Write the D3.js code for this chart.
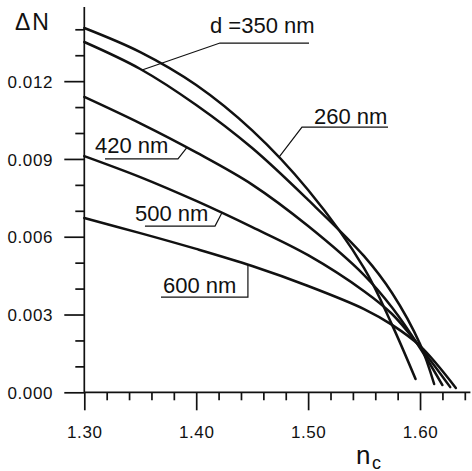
<!DOCTYPE html>
<html><head><meta charset="utf-8">
<script src="https://cdn.jsdelivr.net/npm/d3@7"></script>
<style>
html,body{margin:0;padding:0;background:#fff;}
text{font-family:"Liberation Sans",Arial,Helvetica,sans-serif;fill:#111;}
</style>
</head><body>
<svg id="c" width="472" height="471"></svg>
<script>
// ---- data ----
const nc260 = [1.30, 1.35, 1.40, 1.45, 1.50, 1.55, 1.575, 1.596];
const dn260 = [0.01405, 0.01312, 0.01185, 0.0101, 0.0078, 0.00479, 0.0026, 0.00051];
const nc350 = [1.30, 1.35, 1.40, 1.45, 1.50, 1.55, 1.575, 1.60, 1.6126];
const dn350 = [0.01351, 0.01247, 0.01108, 0.00942, 0.00742, 0.00525, 0.00383, 0.00186, 0.00032];
const nc420 = [1.30, 1.35, 1.40, 1.45, 1.50, 1.55, 1.575, 1.60, 1.620];
const dn420 = [0.01139, 0.01037, 0.00925, 0.00801, 0.00641, 0.00452, 0.00327, 0.00171, 0.00028];
const nc500 = [1.30, 1.35, 1.40, 1.45, 1.50, 1.55, 1.575, 1.60, 1.627];
const dn500 = [0.00911, 0.0083, 0.00738, 0.00637, 0.00529, 0.0039, 0.00302, 0.00175, 0.0002];
const nc600 = [1.30, 1.35, 1.40, 1.45, 1.50, 1.55, 1.575, 1.60, 1.632];
const dn600 = [0.00672, 0.00614, 0.00553, 0.00487, 0.0041, 0.00321, 0.0026, 0.00179, 0.00017];

const xMajorTicks = [1.30, 1.40, 1.50, 1.60];
const xMinorTicks = [1.32, 1.34, 1.36, 1.38, 1.42, 1.44, 1.46, 1.48, 1.52, 1.54, 1.56, 1.58, 1.62, 1.64];
const yMajorTicks = [0.000, 0.003, 0.006, 0.009, 0.012];
const yMinorTicks = [0.001, 0.002, 0.004, 0.005, 0.007, 0.008, 0.010, 0.011, 0.013, 0.014];

const seriesNames = ["260", "350", "420", "500", "600"];
const labelTexts = ["260 nm", "d =350 nm", "420 nm", "500 nm", "600 nm"];

// ---- layout ----
const svg = d3.select("#c");
const x = d3.scaleLinear().domain([1.30, 1.645]).range([84.3, 470.4]);
const y = d3.scaleLinear().domain([0, 0.01486]).range([392.3, 7]);
const ink = "#111";

function styleAxis(g) {
  g.selectAll("path,line").attr("stroke", ink).attr("stroke-width", 1.7);
}

// x axis
svg.append("g").attr("transform", `translate(0,${y(0)})`)
  .call(d3.axisBottom(x).tickValues(xMinorTicks).tickSize(8).tickSizeOuter(0).tickFormat(""))
  .call(styleAxis);
const gx = svg.append("g").attr("transform", `translate(0,${y(0)})`)
  .call(d3.axisBottom(x).tickValues(xMajorTicks).tickSize(18).tickSizeOuter(0).tickFormat(d3.format(".2f")))
  .call(styleAxis);
gx.selectAll("text").attr("y", 45.7).attr("dy", 0).attr("font-size", 17).attr("letter-spacing", 0.6).attr("fill", ink);

// y axis
svg.append("g").attr("transform", `translate(${x(1.30)},0)`)
  .call(d3.axisLeft(y).tickValues(yMinorTicks).tickSize(9).tickSizeOuter(0).tickFormat(""))
  .call(styleAxis);
const gy = svg.append("g").attr("transform", `translate(${x(1.30)},0)`)
  .call(d3.axisLeft(y).tickValues(yMajorTicks).tickSize(20).tickSizeOuter(0).tickFormat(d3.format(".3f")))
  .call(styleAxis);
gy.selectAll("text").attr("x", -31.3).attr("dy", "0.36em").attr("font-size", 17).attr("letter-spacing", 0.6).attr("fill", ink);
svg.selectAll("path.domain").remove();
svg.append("line").attr("x1", x(1.30)).attr("x2", x(1.645)).attr("y1", y(0)).attr("y2", y(0))
  .attr("stroke", ink).attr("stroke-width", 1.7);
svg.append("line").attr("x1", x(1.30)).attr("x2", x(1.30)).attr("y1", y(0)).attr("y2", y(0.01486))
  .attr("stroke", ink).attr("stroke-width", 1.7);

// axis titles
svg.append("text").attr("x", 15).attr("y", 29.5).attr("font-size", 23).attr("letter-spacing", 2).text("ΔN");
svg.append("text").attr("x", 356).attr("y", 464).attr("font-size", 26).text("n");
svg.append("text").attr("x", 372).attr("y", 468.5).attr("font-size", 18).text("c");

// curves
const ncs = [nc260, nc350, nc420, nc500, nc600];
const dns = [dn260, dn350, dn420, dn500, dn600];
const line = d3.line().x(d => x(d[0])).y(d => y(d[1])).curve(d3.curveCatmullRom.alpha(0.5));
const paths = {};
seriesNames.forEach((s, i) => {
  const pts = ncs[i].map((n, j) => [n, dns[i][j]]);
  paths[s] = svg.append("path").datum(pts).attr("d", line)
    .attr("fill", "none").attr("stroke", ink).attr("stroke-width", 2.5)
    .attr("stroke-linecap", "round").node();
});

function pointAtX(path, tx) {
  let lo = 0, hi = path.getTotalLength();
  for (let k = 0; k < 40; k++) {
    const mid = (lo + hi) / 2;
    if (path.getPointAtLength(mid).x < tx) lo = mid; else hi = mid;
  }
  return path.getPointAtLength(lo);
}

// annotations, placed in data coordinates
const notes = [
  {s: "260", t: 1.5052, ty: 0.01035, u0: 1.4945, u1: 1.5714, uy: 0.01023, from: "left", target: 1.4740},
  {s: "350", t: 1.4123, ty: 0.01386, u0: 1.4212, u1: 1.5008, uy: 0.01347, from: "left", target: 1.3516},
  {s: "420", t: 1.3096, ty: 0.00923, u0: 1.3185, u1: 1.3837, uy: 0.00900, from: "right", target: 1.3918},
  {s: "500", t: 1.3453, ty: 0.00661, u0: 1.3542, u1: 1.4168, uy: 0.00641, from: "right", target: 1.4230},
  {s: "600", t: 1.3703, ty: 0.00383, u0: 1.3685, u1: 1.4462, uy: 0.00367, from: "right", target: 1.4462}
];
notes.forEach(a => {
  const i = seriesNames.indexOf(a.s);
  svg.append("text").attr("x", x(a.t)).attr("y", y(a.ty)).attr("font-size", 22).text(labelTexts[i]);
  const p = pointAtX(paths[a.s], x(a.target));
  const sx = a.from === "left" ? x(a.u0) : x(a.u1);
  const ex = a.from === "left" ? x(a.u1) : x(a.u0);
  svg.append("path")
    .attr("d", `M${ex},${y(a.uy)}L${sx},${y(a.uy)}L${p.x},${p.y}`)
    .attr("fill", "none").attr("stroke", ink).attr("stroke-width", 1.2);
});
</script>
</body></html>
